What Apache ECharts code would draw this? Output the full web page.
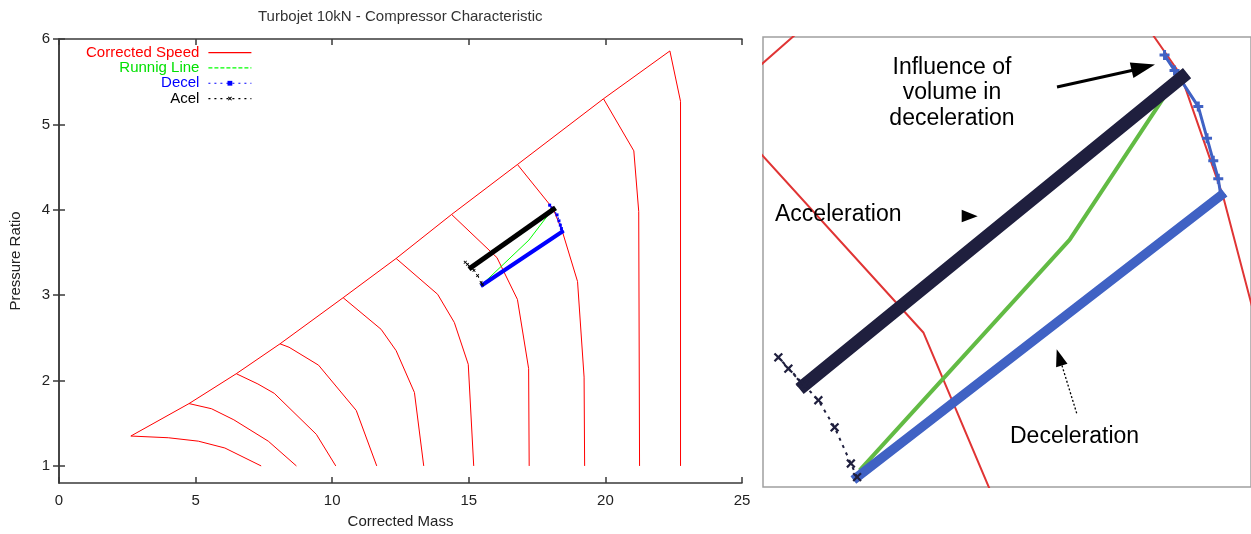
<!DOCTYPE html>
<html><head><meta charset="utf-8">
<script src="https://cdn.jsdelivr.net/npm/echarts@6/dist/echarts.min.js"></script>
<style>html,body{margin:0;padding:0;background:#fff}#c{width:1251px;height:534px}</style>
</head><body><div id="c"></div>
<script>
// ---- data (Corrected Mass, Pressure Ratio) ----
const surgeLine = [[2.63,1.35],[4.76,1.73],[6.49,2.08],[8.09,2.43],[10.40,2.97],[12.34,3.43],[14.37,3.945],[16.78,4.53],[19.93,5.30],[22.36,5.86]];
const speed1 = [[2.63,1.35],[4.0,1.33],[5.1,1.29],[6.07,1.21],[7.4,1.0]];
const speed2 = [[4.76,1.73],[5.58,1.67],[6.4,1.54],[7.66,1.29],[8.69,1.0]];
const speed3 = [[6.49,2.08],[7.28,1.96],[7.88,1.85],[9.42,1.37],[10.13,1.0]];
const speed4 = [[8.09,2.43],[8.42,2.39],[9.5,2.18],[10.88,1.65],[11.63,1.0]];
const speed5 = [[10.4,2.97],[11.79,2.6],[12.34,2.35],[13.01,1.86],[13.35,1.0]];
const speed6 = [[12.34,3.43],[13.86,3.01],[14.47,2.68],[14.98,2.19],[15.18,1.0]];
const speed7 = [[14.37,3.945],[16.03,3.44],[16.78,2.95],[17.19,2.14],[17.21,1.0]];
const speed8 = [[16.78,4.53],[18.09,4.01],[18.43,3.74],[18.98,3.16],[19.22,2.04],[19.24,1.0]];
const speed9 = [[19.93,5.30],[21.04,4.69],[21.22,3.98],[21.25,1.0]];
const speed10 = [[22.36,5.86],[22.75,5.27],[22.75,1.0]];
const runningLine = [[15.52,3.135],[17.20,3.645],[18.05,4.0]];
const decelAlongSpeed = [[17.96,4.054],[18.04,4.02],[18.23,3.94],[18.30,3.87],[18.35,3.82],[18.39,3.78],[18.41,3.743]];
const decelSweep = [[18.41,3.743],[15.50,3.12]];
const acelStart = [[15.50,3.12],[15.45,3.15],[15.32,3.23],[15.19,3.29],[14.87,3.385],[14.95,3.36],[15.05,3.33],[15.08,3.324]];
const acelSweep = [[15.08,3.324],[18.10,4.005]];
const xTicks = [0,5,10,15,20,25];
const yTicks = [1,2,3,4,5,6];
const legendNames = ['Corrected Speed','Runnig Line','Decel','Acel'];

const speedLines = [surgeLine,speed1,speed2,speed3,speed4,speed5,speed6,speed7,speed8,speed9,speed10];
const FONT = 'Liberation Sans, Arial, sans-serif';
const PLUS = 'path://M4,0H6V4H10V6H6V10H4V6H0V4H4Z';
const FATPLUS = 'path://M3.5,0H6.5V3.5H10V6.5H6.5V10H3.5V6.5H0V3.5H3.5Z';

function panelSeries(ax, st) {
  const s = [];
  speedLines.forEach(d => s.push({
    type:'line', name:legendNames[0], xAxisIndex:ax, yAxisIndex:ax, data:d,
    symbol:'none', lineStyle:{color:st.red, width:st.redW}, itemStyle:{color:st.red}, z:2
  }));
  s.push({type:'line', name:legendNames[1], xAxisIndex:ax, yAxisIndex:ax, data:runningLine,
    symbol:'none', lineStyle:{color:st.green, width:st.greenW}, itemStyle:{color:st.green}, z:3});
  s.push({type:'line', name:legendNames[2], xAxisIndex:ax, yAxisIndex:ax, data:decelAlongSpeed,
    symbol:st.decelSym, symbolSize:st.decelSymSize, showAllSymbol:true,
    lineStyle:{color:st.blue, width:st.decelThinW, type:st.decelThinType}, itemStyle:{color:st.blue}, z:4});
  s.push({type:'line', name:legendNames[2], xAxisIndex:ax, yAxisIndex:ax, data:decelSweep,
    symbol:'none', lineStyle:{color:st.blue, width:st.decelW, cap:'square'}, itemStyle:{color:st.blue}, z:4});
  s.push({type:'line', name:legendNames[3], xAxisIndex:ax, yAxisIndex:ax, data:acelStart,
    symbol:PLUS, symbolRotate:45, symbolSize:st.acelSymSize, showAllSymbol:true,
    lineStyle:{color:st.dark, width:st.acelThinW, type:[3,5]}, itemStyle:{color:st.dark}, z:5});
  s.push({type:'line', name:legendNames[3], xAxisIndex:ax, yAxisIndex:ax, data:acelSweep,
    symbol:'none', lineStyle:{color:st.dark, width:st.acelW, cap:'square'}, itemStyle:{color:st.dark}, z:5});
  return s;
}

const leftStyle = {red:'#ff0000', redW:1, green:'#00ff00', greenW:1, blue:'#0000ff', decelW:4,
  decelThinW:1.5, decelThinType:'dotted', decelSym:'rect', decelSymSize:3,
  dark:'#000000', acelW:5, acelThinW:1, acelSymSize:4};
const rightStyle = {red:'#e03434', redW:2, green:'#62bb44', greenW:4, blue:'#4062c4', decelW:9.5,
  decelThinW:3, decelThinType:'solid', decelSym:FATPLUS, decelSymSize:10,
  dark:'#1f1f3e', acelW:13, acelThinW:2, acelSymSize:11};

const axisTxt = {color:'#222', fontSize:15, fontFamily:FONT};
const axLine = {lineStyle:{color:'#3a3a3a', width:1.5}};
const tick = {inside:true, length:6, lineStyle:{color:'#3a3a3a', width:1.5}};

const RX0 = 14.747, RX1 = 18.636, RY0 = 3.098, RY1 = 4.094;
const noDot = {color:'rgba(0,0,0,0)', borderWidth:0, opacity:0};

const option = {
  animation:false,
  backgroundColor:'#fff',
  title:{text:'Turbojet 10kN - Compressor Characteristic', left:258, top:9, padding:0,
    textStyle:{fontSize:15, fontWeight:'normal', color:'#333', fontFamily:FONT}},
  legend:{orient:'vertical', right:999, top:45, padding:0, align:'right', itemWidth:43, itemHeight:6,
    itemGap:0, selectedMode:false,
    textStyle:{fontSize:15, fontFamily:FONT, lineHeight:15.3, padding:[0,4,0,0]},
    data:[
      {name:'Corrected Speed', textStyle:{color:'#ff0000'}, itemStyle:noDot, lineStyle:{color:'#ff0000', width:1.2, type:'solid'}},
      {name:'Runnig Line', textStyle:{color:'#00e000'}, itemStyle:noDot, lineStyle:{color:'#00ff00', width:1.2, type:[4,2]}},
      {name:'Decel', textStyle:{color:'#0000ff'}, lineStyle:{color:'#0000ff', width:1.2, type:[2,4]}, itemStyle:{color:'#0000ff'}},
      {name:'Acel', textStyle:{color:'#000000'}, lineStyle:{color:'#000000', width:1.2, type:[2,4]}, itemStyle:{color:'#000000'}}
    ]},
  grid:[
    {left:57, top:39, width:685, height:447, containLabel:false},
    {left:763, top:37, width:492, height:450, show:true, borderColor:'#a0a0a0', borderWidth:1.5, backgroundColor:'transparent'}
  ],
  xAxis:[
    {gridIndex:0, type:'value', min:xTicks[0], max:xTicks[xTicks.length-1], interval:5, position:'bottom',
     name:'Corrected Mass', nameLocation:'middle', nameGap:31, nameTextStyle:axisTxt,
     axisLine:axLine, axisTick:tick, axisLabel:Object.assign({margin:10}, axisTxt), splitLine:{show:false}},
    {gridIndex:0, type:'value', min:xTicks[0], max:xTicks[xTicks.length-1], interval:5, position:'top',
     axisLine:axLine, axisTick:tick, axisLabel:{show:false}, splitLine:{show:false}},
    {gridIndex:1, type:'value', min:RX0, max:RX0 + (RX1 - RX0) * 492 / 490, show:false}
  ],
  yAxis:[
    {gridIndex:0, type:'value', min:0.8, max:yTicks[yTicks.length-1], position:'left',
     name:'Pressure Ratio', nameLocation:'middle', nameGap:36, nameTextStyle:axisTxt,
     axisLine:axLine, axisTick:Object.assign({customValues:yTicks}, tick),
     axisLabel:Object.assign({margin:9, customValues:yTicks}, axisTxt), splitLine:{show:false}},
    {gridIndex:0, type:'value', min:0.8, max:yTicks[yTicks.length-1], position:'right',
     axisLine:axLine, axisTick:Object.assign({customValues:yTicks}, tick),
     axisLabel:{show:false}, splitLine:{show:false}},
    {gridIndex:1, type:'value', min:RY0, max:RY1, show:false}
  ],
  series:[].concat(panelSeries(0, leftStyle), panelSeries(2, rightStyle)),
  graphic:[
    {type:'text', x:952, y:93, z:50, style:{text:'Influence of\nvolume in\ndeceleration', font:'23px '+FONT,
      fill:'#000', align:'center', verticalAlign:'middle', lineHeight:25.5}},
    {type:'text', x:775, y:214.6, z:50, style:{text:'Acceleration', font:'23px '+FONT, fill:'#000', align:'left', verticalAlign:'middle'}},
    {type:'text', x:1010, y:436.2, z:50, style:{text:'Deceleration', font:'23px '+FONT, fill:'#000', align:'left', verticalAlign:'middle'}},
    {type:'line', z:50, shape:{x1:1057, y1:87, x2:1134, y2:70}, style:{stroke:'#000', lineWidth:3}},
    {type:'polygon', z:50, shape:{points:[[1155,64.5],[1133.4,78.1],[1129.8,62.5]]}, style:{fill:'#000'}},
    {type:'polygon', z:50, shape:{points:[[961.7,209.7],[977.7,216.3],[961.7,222.3]]}, style:{fill:'#000'}},
    {type:'line', z:50, shape:{x1:1076.7, y1:413.3, x2:1061.5, y2:364}, style:{stroke:'#000', lineWidth:1.3, lineDash:[2,2]}},
    {type:'polygon', z:50, shape:{points:[[1056.7,349.3],[1067.5,363.7],[1056.1,367.3]]}, style:{fill:'#000'}}
  ]
};
const chart = echarts.init(document.getElementById('c'), null, {renderer:'canvas'});
chart.setOption(option);
</script></body></html>
